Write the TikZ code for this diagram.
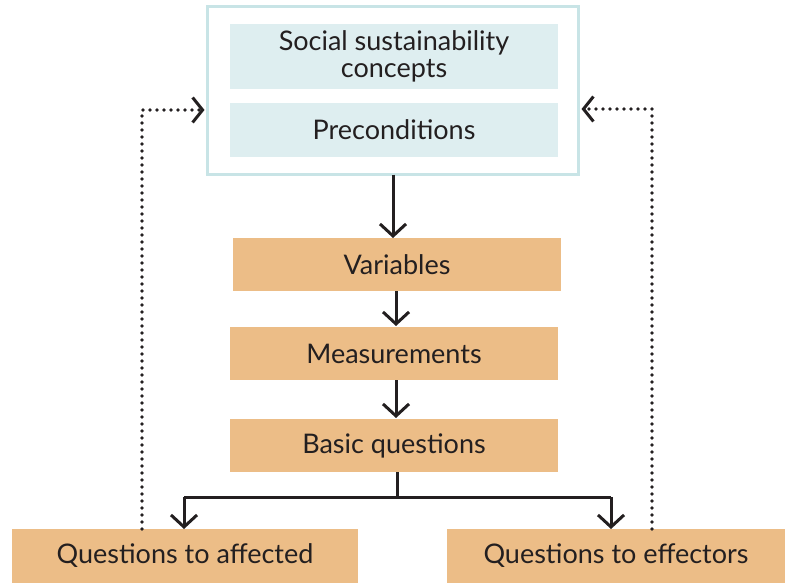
\documentclass[tikz,border=0pt]{standalone}
\usepackage{fontspec}
\setmainfont{Lato}
\usetikzlibrary{arrows.meta}
\definecolor{orng}{RGB}{236,189,135}
\definecolor{tealfill}{RGB}{222,238,240}
\definecolor{tealline}{RGB}{200,228,230}
\definecolor{ink}{RGB}{35,31,32}
\begin{document}
\begin{tikzpicture}[x=1bp,y=-1bp,
  every node/.style={inner sep=0pt, outer sep=0pt, text=ink, font=\fontsize{27bp}{27bp}\selectfont, align=center},
  obox/.style={rectangle, fill=orng, minimum height=53bp},
  tbox/.style={rectangle, fill=tealfill, minimum width=328bp},
  arr/.style={draw=ink, line width=3bp, -{Straight Barb[length=12bp,width=26bp,line width=3bp]}},
  dotarr/.style={draw=ink, line width=3.6bp, line cap=round, dash pattern=on 0bp off 7bp, -{Straight Barb[length=10bp,width=25bp,line width=3bp]}}
]
\useasboundingbox (0,0) rectangle (785,583);
\node[rectangle, draw=tealline, line width=2.6bp, minimum width=371bp, minimum height=168bp] (outer) at (393,90.5) {};
\node[tbox, minimum height=65bp] (c1) at (394,56.5) {Social sustainability\\concepts};
\node[tbox, minimum height=54bp] (c2) at (394,130) {Preconditions};
\node[obox, minimum width=328bp] (var) at (397,264.5) {Variables};
\node[obox, minimum width=328bp] (meas) at (394,353.5) {Measurements};
\node[obox, minimum width=328bp] (basic) at (394,445.5) {Basic questions};
\node[obox, minimum width=346bp, minimum height=54bp] (qa) at (185,556) {Questions to affected};
\node[obox, minimum width=338bp, minimum height=54bp] (qe) at (616,556) {Questions to effectors};
\coordinate (ja) at (184,497);
\coordinate (jb) at (611,497);
\coordinate (dl) at (142,110);
\coordinate (dr) at (652,109);
\draw[arr] (outer.south) -- (outer.south |- var.north);
\draw[arr] (var.south -| meas.north) ++(2,0) -- ++(0,35);
\draw[arr] (meas.south) ++(2,0) -- ++(0,38);
\draw[draw=ink, line width=3bp] (basic.south) ++(3,0) |- (ja);
\draw[arr] (ja) -- (ja |- qa.north);
\draw[draw=ink, line width=3bp] (basic.south) ++(3,0) |- (jb);
\draw[arr] (jb) -- (jb |- qe.north);
\draw[dotarr] (dl |- qa.north) -- (dl) -- ([xshift=-3bp]dl -| outer.west);
\draw[dotarr] (dr |- qe.north) -- (dr) -- ([xshift=3bp]dr -| outer.east);
\end{tikzpicture}
\end{document}
